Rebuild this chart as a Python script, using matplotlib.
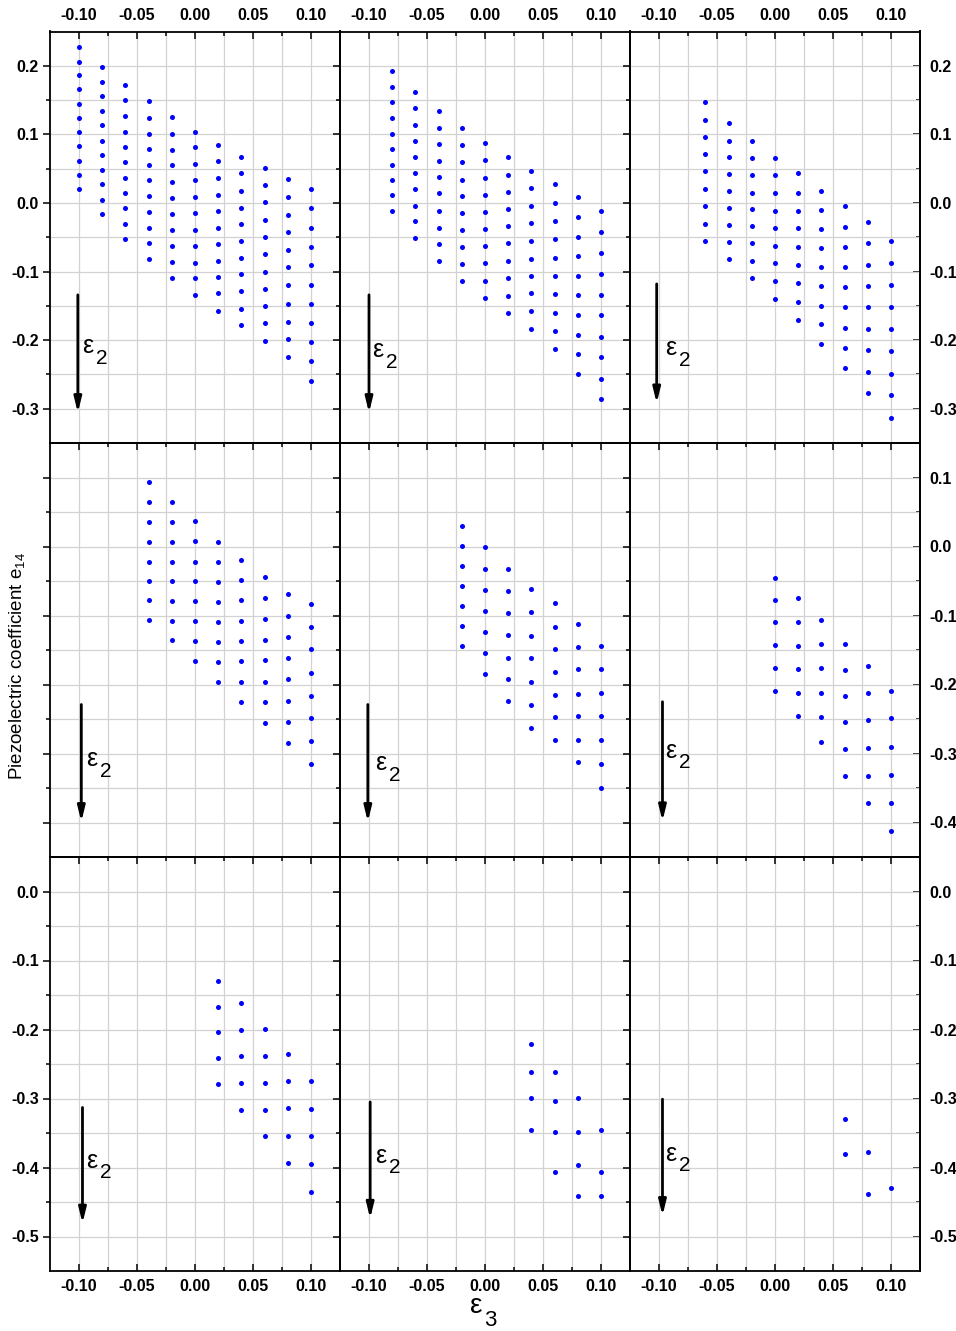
import matplotlib
matplotlib.use('Agg')
import matplotlib.pyplot as plt
from matplotlib.ticker import FixedLocator, FormatStrFormatter

plt.rcParams['font.family'] = ['Liberation Sans', 'DejaVu Sans']
plt.rcParams['axes.unicode_minus'] = False
plt.rcParams['mathtext.default'] = 'regular'

# ---------------- data (eps3 columns and e14 values per column) -------------
eps3_r1c1 = [-0.10, -0.08, -0.06, -0.04, -0.02, 0.00, 0.02, 0.04, 0.06, 0.08, 0.10]
e14_r1c1 = [
    [0.227, 0.206, 0.186, 0.166, 0.145, 0.124, 0.103, 0.083, 0.061, 0.041, 0.020],
    [0.198, 0.177, 0.156, 0.134, 0.113, 0.091, 0.070, 0.048, 0.027, 0.005, -0.016],
    [0.172, 0.150, 0.127, 0.104, 0.082, 0.060, 0.037, 0.015, -0.008, -0.030, -0.053],
    [0.148, 0.124, 0.101, 0.078, 0.056, 0.033, 0.010, -0.013, -0.037, -0.059, -0.082],
    [0.125, 0.101, 0.077, 0.055, 0.031, 0.007, -0.016, -0.039, -0.063, -0.086, -0.109],
    [0.104, 0.081, 0.057, 0.033, 0.009, -0.015, -0.039, -0.063, -0.087, -0.110, -0.134],
    [0.085, 0.061, 0.036, 0.012, -0.012, -0.036, -0.060, -0.084, -0.108, -0.132, -0.158],
    [0.067, 0.043, 0.018, -0.007, -0.031, -0.055, -0.080, -0.104, -0.129, -0.154, -0.178],
    [0.051, 0.026, 0.001, -0.025, -0.049, -0.075, -0.100, -0.125, -0.150, -0.175, -0.201],
    [0.035, 0.009, -0.017, -0.043, -0.069, -0.094, -0.120, -0.147, -0.173, -0.199, -0.224],
    [0.020, -0.008, -0.036, -0.064, -0.091, -0.119, -0.147, -0.175, -0.203, -0.231, -0.259],
]

eps3_r1c2 = [-0.08, -0.06, -0.04, -0.02, 0.00, 0.02, 0.04, 0.06, 0.08, 0.10]
e14_r1c2 = [
    [0.192, 0.169, 0.147, 0.124, 0.101, 0.079, 0.056, 0.034, 0.011, -0.012],
    [0.162, 0.138, 0.114, 0.091, 0.067, 0.044, 0.020, -0.004, -0.027, -0.051],
    [0.134, 0.110, 0.086, 0.061, 0.038, 0.014, -0.011, -0.036, -0.060, -0.085],
    [0.109, 0.084, 0.059, 0.034, 0.010, -0.015, -0.040, -0.064, -0.089, -0.114],
    [0.087, 0.062, 0.037, 0.012, -0.013, -0.038, -0.063, -0.088, -0.114, -0.139],
    [0.067, 0.041, 0.016, -0.009, -0.034, -0.059, -0.084, -0.109, -0.135, -0.160],
    [0.047, 0.022, -0.004, -0.029, -0.055, -0.081, -0.107, -0.132, -0.158, -0.184],
    [0.027, 0.000, -0.026, -0.053, -0.080, -0.106, -0.133, -0.160, -0.187, -0.213],
    [0.009, -0.020, -0.049, -0.077, -0.106, -0.134, -0.163, -0.192, -0.220, -0.250],
    [-0.012, -0.043, -0.073, -0.103, -0.134, -0.164, -0.195, -0.225, -0.256, -0.286],
]

eps3_r1c3 = [-0.06, -0.04, -0.02, 0.00, 0.02, 0.04, 0.06, 0.08, 0.10]
e14_r1c3 = [
    [0.147, 0.121, 0.096, 0.071, 0.046, 0.020, -0.005, -0.030, -0.055],
    [0.116, 0.091, 0.067, 0.042, 0.017, -0.008, -0.032, -0.057, -0.081],
    [0.091, 0.066, 0.041, 0.015, -0.009, -0.034, -0.059, -0.085, -0.110],
    [0.066, 0.041, 0.015, -0.011, -0.037, -0.063, -0.088, -0.114, -0.140],
    [0.043, 0.015, -0.011, -0.037, -0.064, -0.091, -0.117, -0.144, -0.171],
    [0.018, -0.010, -0.038, -0.066, -0.093, -0.121, -0.150, -0.177, -0.205],
    [-0.005, -0.035, -0.064, -0.093, -0.122, -0.152, -0.182, -0.211, -0.241],
    [-0.028, -0.059, -0.090, -0.121, -0.152, -0.184, -0.215, -0.246, -0.277],
    [-0.055, -0.087, -0.119, -0.152, -0.184, -0.216, -0.249, -0.280, -0.313],
]

eps3_r2c1 = [-0.04, -0.02, 0.00, 0.02, 0.04, 0.06, 0.08, 0.10]
e14_r2c1 = [
    [0.093, 0.064, 0.036, 0.007, -0.022, -0.050, -0.078, -0.106],
    [0.064, 0.035, 0.007, -0.022, -0.050, -0.079, -0.108, -0.136],
    [0.037, 0.008, -0.022, -0.050, -0.079, -0.108, -0.137, -0.166],
    [0.007, -0.022, -0.051, -0.080, -0.109, -0.138, -0.167, -0.196],
    [-0.019, -0.049, -0.078, -0.108, -0.137, -0.166, -0.196, -0.226],
    [-0.044, -0.075, -0.105, -0.135, -0.164, -0.196, -0.226, -0.256],
    [-0.069, -0.100, -0.131, -0.161, -0.192, -0.224, -0.254, -0.285],
    [-0.083, -0.116, -0.149, -0.183, -0.216, -0.249, -0.282, -0.315],
]

eps3_r2c2 = [-0.02, 0.00, 0.02, 0.04, 0.06, 0.08, 0.10]
e14_r2c2 = [
    [0.030, 0.001, -0.028, -0.057, -0.086, -0.115, -0.144],
    [-0.001, -0.032, -0.063, -0.093, -0.124, -0.154, -0.185],
    [-0.032, -0.064, -0.096, -0.128, -0.161, -0.192, -0.224],
    [-0.061, -0.095, -0.129, -0.162, -0.196, -0.230, -0.263],
    [-0.082, -0.116, -0.148, -0.182, -0.215, -0.247, -0.280],
    [-0.112, -0.146, -0.178, -0.214, -0.246, -0.280, -0.313],
    [-0.144, -0.177, -0.212, -0.246, -0.281, -0.315, -0.350],
]

eps3_r2c3 = [0.00, 0.02, 0.04, 0.06, 0.08, 0.10]
e14_r2c3 = [
    [-0.045, -0.078, -0.110, -0.143, -0.176, -0.209],
    [-0.075, -0.109, -0.144, -0.177, -0.212, -0.245],
    [-0.107, -0.142, -0.176, -0.213, -0.247, -0.283],
    [-0.141, -0.179, -0.217, -0.255, -0.294, -0.332],
    [-0.173, -0.213, -0.252, -0.292, -0.332, -0.372],
    [-0.209, -0.249, -0.291, -0.331, -0.372, -0.413],
]

eps3_r3c1 = [0.02, 0.04, 0.06, 0.08, 0.10]
e14_r3c1 = [
    [-0.129, -0.167, -0.204, -0.242, -0.279],
    [-0.162, -0.201, -0.239, -0.278, -0.316],
    [-0.199, -0.238, -0.278, -0.317, -0.355],
    [-0.235, -0.275, -0.314, -0.354, -0.394],
    [-0.274, -0.315, -0.354, -0.395, -0.435],
]

eps3_r3c2 = [0.04, 0.06, 0.08, 0.10]
e14_r3c2 = [
    [-0.221, -0.262, -0.299, -0.346],
    [-0.262, -0.304, -0.349, -0.406],
    [-0.299, -0.349, -0.396, -0.441],
    [-0.346, -0.406, -0.441],
]

eps3_r3c3 = [0.06, 0.08, 0.10]
e14_r3c3 = [
    [-0.329, -0.381],
    [-0.377, -0.438],
    [-0.430],
]

# tick labels / axis ranges
x_ticks = [-0.10, -0.05, 0.00, 0.05, 0.10]
x_minor = [-0.075, -0.025, 0.025, 0.075]
y_ticks_row1 = [0.2, 0.1, 0.0, -0.1, -0.2, -0.3]
y_ticks_row2 = [0.1, 0.0, -0.1, -0.2, -0.3, -0.4]
y_ticks_row3 = [0.0, -0.1, -0.2, -0.3, -0.4, -0.5]
y_minor_row1 = [0.15, 0.05, -0.05, -0.15, -0.25]
y_minor_row2 = [0.05, -0.05, -0.15, -0.25, -0.35]
y_minor_row3 = [-0.05, -0.15, -0.25, -0.35, -0.45]
ylim_rows = [(-0.35, 0.25), (-0.45, 0.15), (-0.55, 0.05)]

panels = [
    [(eps3_r1c1, e14_r1c1), (eps3_r1c2, e14_r1c2), (eps3_r1c3, e14_r1c3)],
    [(eps3_r2c1, e14_r2c1), (eps3_r2c2, e14_r2c2), (eps3_r2c3, e14_r2c3)],
    [(eps3_r3c1, e14_r3c1), (eps3_r3c2, e14_r3c2), (eps3_r3c3, e14_r3c3)],
]
y_ticks_rows = [y_ticks_row1, y_ticks_row2, y_ticks_row3]
y_minor_rows = [y_minor_row1, y_minor_row2, y_minor_row3]

# epsilon_2 arrow annotations: (x, y_start, y_end, label_x, label_y)
arrows = [
    [(-0.101, -0.134, -0.306, -0.097, -0.209), (-0.100, -0.134, -0.306, -0.097, -0.215),
     (-0.102, -0.118, -0.292, -0.095, -0.212)],
    [(-0.098, -0.229, -0.399, -0.094, -0.308), (-0.101, -0.229, -0.399, -0.095, -0.314),
     (-0.097, -0.225, -0.398, -0.095, -0.296)],
    [(-0.097, -0.313, -0.481, -0.094, -0.390), (-0.099, -0.305, -0.474, -0.095, -0.383),
     (-0.097, -0.301, -0.470, -0.095, -0.380)],
]

# ---------------- figure -------------
W, H = 956, 1331
fig = plt.figure(figsize=(W / 100, H / 100), dpi=100)
fig.patch.set_facecolor('white')

col_left = [50, 340, 630]
col_w = 290
row_top = [31.5, 443, 857]
row_bot = [443, 857, 1271]

dot_color = '#0000ff'
grid_color = '#d2d2d2'
tick_fs = 11.5

for r in range(3):
    for c in range(3):
        ax = fig.add_axes([col_left[c] / W, 1 - row_bot[r] / H, col_w / W,
                           (row_bot[r] - row_top[r]) / H])
        ax.set_facecolor('none')
        eps3, e14 = panels[r][c]
        for x, ys in zip(eps3, e14):
            ax.scatter([x] * len(ys), ys, s=13, color=dot_color, linewidths=0, zorder=3)
        ax.set_xlim(-0.125, 0.125)
        ax.set_ylim(*ylim_rows[r])
        ax.xaxis.set_major_locator(FixedLocator(x_ticks))
        ax.xaxis.set_minor_locator(FixedLocator(x_minor))
        ax.yaxis.set_major_locator(FixedLocator(y_ticks_rows[r]))
        ax.yaxis.set_minor_locator(FixedLocator(y_minor_rows[r]))
        ax.xaxis.set_major_formatter(FormatStrFormatter('%.2f'))
        ax.yaxis.set_major_formatter(FormatStrFormatter('%.1f'))
        ax.grid(which='both', color=grid_color, lw=0.9)
        ax.set_axisbelow(True)
        for sp in ax.spines.values():
            sp.set_linewidth(1.3)
            sp.set_color('black')
        ax.tick_params(axis='x', which='both', direction='in', top=True,
                       bottom=(r == 2), labeltop=(r == 0), labelbottom=(r == 2),
                       labelsize=tick_fs, width=1.1)
        ax.tick_params(axis='x', which='major', length=5, pad=6)
        ax.tick_params(axis='x', which='minor', length=3)
        ax.tick_params(axis='y', which='both', direction='out', left=True, right=False,
                       labelleft=(c == 0 and r != 1), labelright=False,
                       labelsize=tick_fs, pad=3, width=1.1)
        ax.tick_params(axis='y', which='major', length=5)
        ax.tick_params(axis='y', which='minor', length=3)
        plt.setp(ax.get_xticklabels(), fontweight='bold')
        plt.setp(ax.get_yticklabels(), fontweight='bold')

        if c == 2:
            sec = ax.secondary_yaxis('right')
            sec.yaxis.set_major_locator(FixedLocator(y_ticks_rows[r]))
            sec.yaxis.set_minor_locator(FixedLocator(y_minor_rows[r]))
            sec.yaxis.set_major_formatter(FormatStrFormatter('%.1f'))
            sec.tick_params(axis='y', which='both', direction='in', labelsize=tick_fs,
                            pad=7, width=1.1)
            sec.tick_params(axis='y', which='major', length=5)
            sec.tick_params(axis='y', which='minor', length=3)
            sec.spines['right'].set_linewidth(1.3)
            plt.setp(sec.get_yticklabels(), fontweight='bold')

        # epsilon_2 arrow
        ax_x, y0, y1, lx, ly = arrows[r][c]
        ax.annotate('', xy=(ax_x, y1), xytext=(ax_x, y0),
                    arrowprops=dict(arrowstyle='-|>,head_width=0.22,head_length=0.9',
                                    lw=2.0, color='black', shrinkA=0, shrinkB=0),
                    zorder=4)
        ax.text(lx, ly, 'ε', fontsize=18, ha='left', va='center', zorder=5)
        ax.annotate('2', xy=(lx, ly), xytext=(14, -12), textcoords='offset pixels',
                    fontsize=15, ha='left', va='center', zorder=5)

# axis labels
fig.text(17 / W, 1 - 666 / H, 'Piezoelectric coefficient e$_{14}$', rotation=90,
         fontsize=13.5, ha='center', va='center')
fig.text(470 / W, 1 - 1306 / H, 'ε', fontsize=20, ha='left', va='center')
fig.text(484 / W, 1 - 1320 / H, '3', fontsize=16, ha='left', va='center')

fig.savefig('out.png', dpi=100, facecolor='white')
